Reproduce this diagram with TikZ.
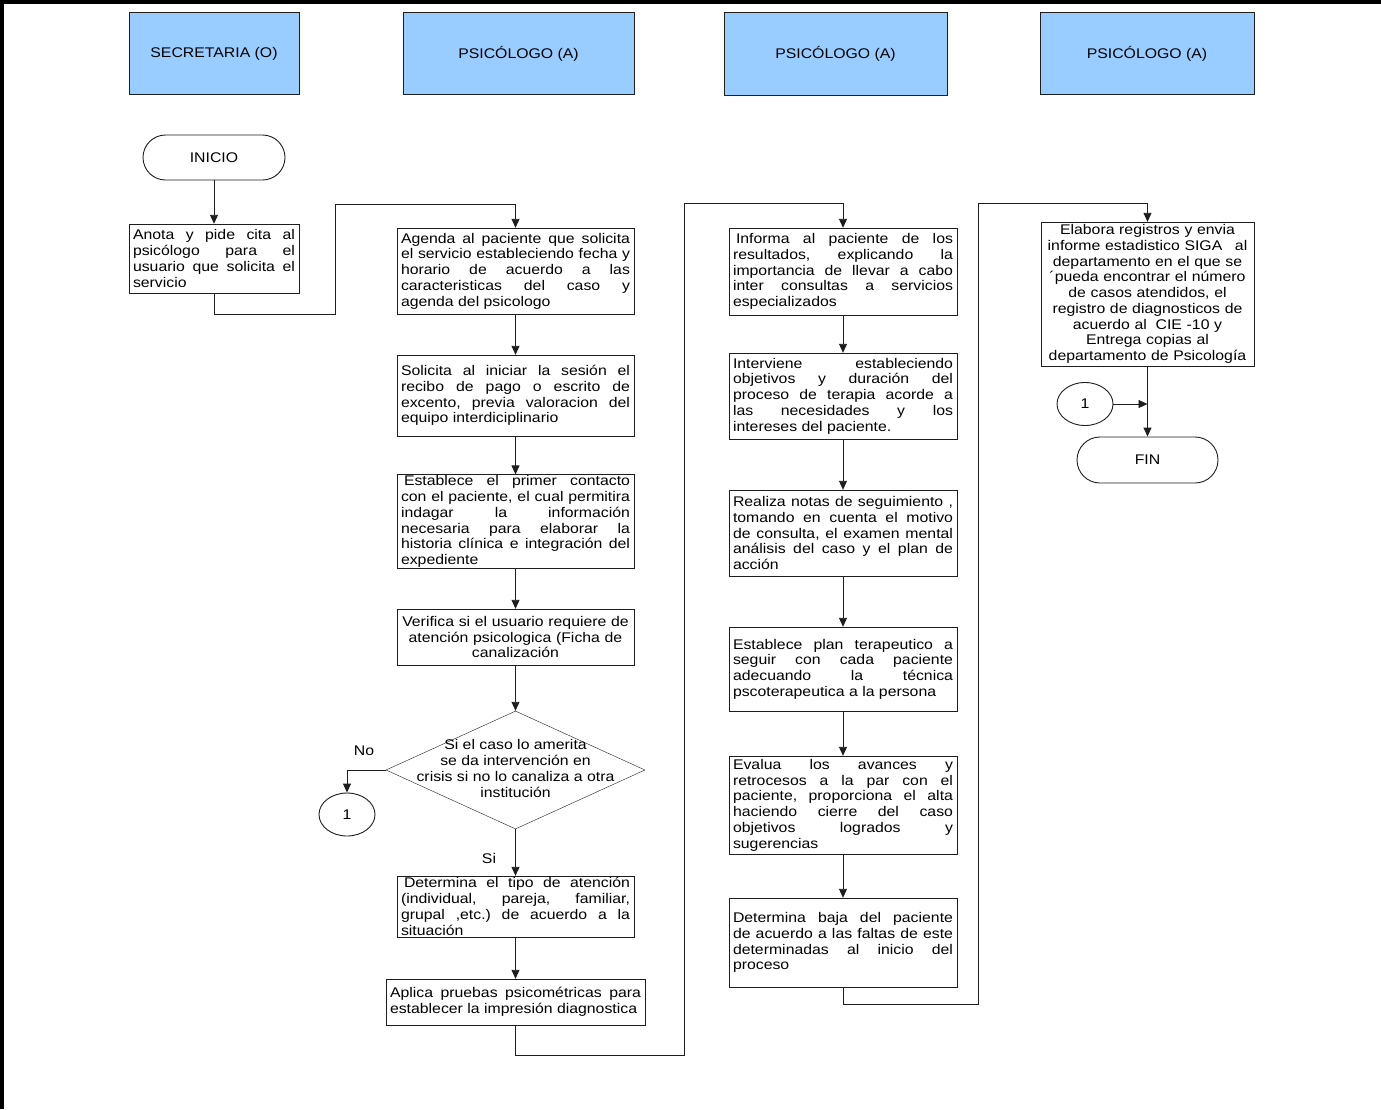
\documentclass[tikz,border=0pt]{standalone}
\usepackage{fontspec}
\setmainfont{Liberation Sans}[FakeStretch=1.13]
\usetikzlibrary{arrows.meta,shapes.geometric}
\definecolor{laneblue}{RGB}{153,204,255}
\definecolor{edge}{RGB}{30,30,30}
\tolerance=10000
\hyphenpenalty=10000
\exhyphenpenalty=10000
\frenchspacing

\begin{document}
\begin{tikzpicture}[x=1pt,y=-1pt,
  every node/.style={font=\fontsize{14}{15.75}\selectfont},
  lane/.style={draw=edge, fill=laneblue, minimum height=82, inner sep=0},
  proc/.style={draw=edge, inner xsep=4pt, inner ysep=1pt, align=justify},
  procc/.style={draw=edge, inner xsep=4pt, inner ysep=1pt, align=center},
  term/.style={draw=edge, line width=0.9pt, minimum width=142, minimum height=45, rounded corners=22.5, inner sep=0},
  conn/.style={draw=edge, line width=0.9pt, ellipse, minimum width=56, minimum height=43, inner sep=0},
  arr/.style={draw=edge, line width=0.9pt, -{Triangle[length=9pt,width=8pt]}},
  wire/.style={draw=edge, line width=0.9pt}
]
\useasboundingbox (0,0) rectangle (1381,1109);

% page frame (top and left edges)
\draw[line width=3.5pt] (1.75,1109) -- (1.75,1.75) -- (1381,1.75);

% swimlane headers
\node[lane, minimum width=170] (h1) at (214,53.5) {SECRETARIA (O)};
\node[lane, minimum width=231] (h2) at (518.5,53.5) {PSICÓLOGO (A)};
\node[lane, minimum width=223, minimum height=83] (h3) at (835.5,53.5) {PSICÓLOGO (A)};
\node[lane, minimum width=214] (h4) at (1147,53.5) {PSICÓLOGO (A)};

% column 1
\node[term] (inicio) at (214,157.5) {INICIO};
\node[proc, text width=162, minimum height=69] (anota) at (214,258.5)
  {Anota y pide cita al\linebreak psicólogo para el\linebreak usuario que solicita el\linebreak servicio};

% column 2
\node[proc, text width=229, minimum height=86] (agenda) at (515.5,271)
  {Agenda al paciente que solicita\linebreak el servicio estableciendo fecha y\linebreak horario de acuerdo a las\linebreak caracteristicas del caso y\linebreak agenda del psicologo};
\node[proc, text width=229, minimum height=81] (solicita) at (515.5,395.5)
  {Solicita al iniciar la sesión el\linebreak recibo de pago o escrito de\linebreak excento, previa valoracion del\linebreak equipo interdiciplinario};
\node[proc, text width=229, minimum height=93] (contacto) at (515.5,521.5)
  {\hspace*{3pt}Establece el primer contacto\linebreak con el paciente, el cual permitira\linebreak indagar la información\linebreak necesaria para elaborar la\linebreak historia clínica e integración del\linebreak expediente};
\node[procc, text width=229, minimum height=56] (verifica) at (515.5,637)
  {Verifica si el usuario requiere de\\ atención psicologica (Ficha de\\ canalización};
\node[draw=edge, diamond, minimum width=259, minimum height=118, inner sep=0] (dec) at (515.5,770) {};
\node[align=center, inner sep=0] (dectext) at (515.5,768.5)
  {Si el caso lo amerita\\ se da intervención en\\ crisis si no lo canaliza a otra\\ institución};
\node[conn] (c1) at (347,814.5) {1};
\node[inner sep=1pt] (nolab) at (364,751) {No};
\node[inner sep=1pt] (silab) at (489,858) {Si};
\node[proc, text width=229, minimum height=61] (tipo) at (515.5,906.5)
  {\hspace*{3pt}Determina el tipo de atención\linebreak (individual, pareja, familiar,\linebreak grupal ,etc.) de acuerdo a la\linebreak situación};
\node[proc, text width=251, minimum height=46] (aplica) at (515.5,1002)
  {Aplica pruebas psicométricas para\linebreak establecer la impresión diagnostica};

% column 3
\node[proc, text width=220, minimum height=87] (informa) at (843,271.5)
  {\hspace*{3pt}Informa al paciente de los\linebreak resultados, explicando la\linebreak importancia de llevar a cabo\linebreak inter consultas a servicios\linebreak especializados};
\node[proc, text width=220, minimum height=86] (interviene) at (843,396)
  {Interviene estableciendo\linebreak objetivos y duración del\linebreak proceso de terapia acorde a\linebreak las necesidades y los\linebreak intereses del paciente.};
\node[proc, text width=220, minimum height=86] (realiza) at (843,533)
  {Realiza notas de seguimiento ,\linebreak tomando en cuenta el motivo\linebreak de consulta, el examen mental\linebreak análisis del caso y el plan de\linebreak acción};
\node[proc, text width=220, minimum height=84] (plan) at (843,669)
  {Establece plan terapeutico a\linebreak seguir con cada paciente\linebreak adecuando la técnica\linebreak pscoterapeutica a la persona};
\node[proc, text width=220, minimum height=98] (evalua) at (843,805)
  {Evalua los avances y\linebreak retrocesos a la par con el\linebreak paciente, proporciona el alta\linebreak haciendo cierre del caso\linebreak objetivos logrados y\linebreak sugerencias};
\node[proc, text width=220, minimum height=89] (baja) at (843,942.5)
  {Determina baja del paciente\linebreak de acuerdo a las faltas de este\linebreak determinadas al inicio del\linebreak proceso};

% column 4
\node[procc, text width=205, minimum height=144] (elabora) at (1147.5,294)
  {Elabora registros y envia\\ informe estadistico SIGA\hspace{8pt} al\\ departamento en el que se\\ ´pueda encontrar el número\\ de casos atendidos, el\\ registro de diagnosticos de\\ acuerdo al\hspace{4pt} CIE -10 y\\ Entrega copias al\\ departamento de Psicología};
\node[conn] (c2) at (1085,404) {1};
\node[term, minimum width=141, minimum height=46, rounded corners=23] (fin) at (1147.5,460) {FIN};

% routing points
\coordinate (r1) at (335,314);
\coordinate (r2) at (335,204);
\coordinate (r3) at (684,1055);
\coordinate (r4) at (684,203);
\coordinate (r5) at (978,1004);
\coordinate (r6) at (978,203);
\coordinate (j) at (1147.5,404);

% connectors
\draw[arr] (inicio) -- (anota);
\draw[arr] (anota.south) |- (r1) -- (r2) -| (agenda.north);
\draw[arr] (agenda) -- (solicita);
\draw[arr] (solicita) -- (contacto);
\draw[arr] (contacto) -- (verifica);
\draw[arr] (verifica) -- (dec.north);
\draw[arr] (dec.west) -| (c1.north);
\draw[arr] (dec.south) -- (tipo.north);
\draw[arr] (tipo) -- (aplica);
\draw[arr] (aplica.south) |- (r3) -- (r4) -| (informa.north);
\draw[arr] (informa) -- (interviene);
\draw[arr] (interviene) -- (realiza);
\draw[arr] (realiza) -- (plan);
\draw[arr] (plan) -- (evalua);
\draw[arr] (evalua) -- (baja);
\draw[arr] (baja.south) |- (r5) -- (r6) -| (elabora.north);
\draw[arr] (elabora.south) -- (fin.north);
\draw[arr] (c2.east) -- (j);
\end{tikzpicture}
\end{document}
